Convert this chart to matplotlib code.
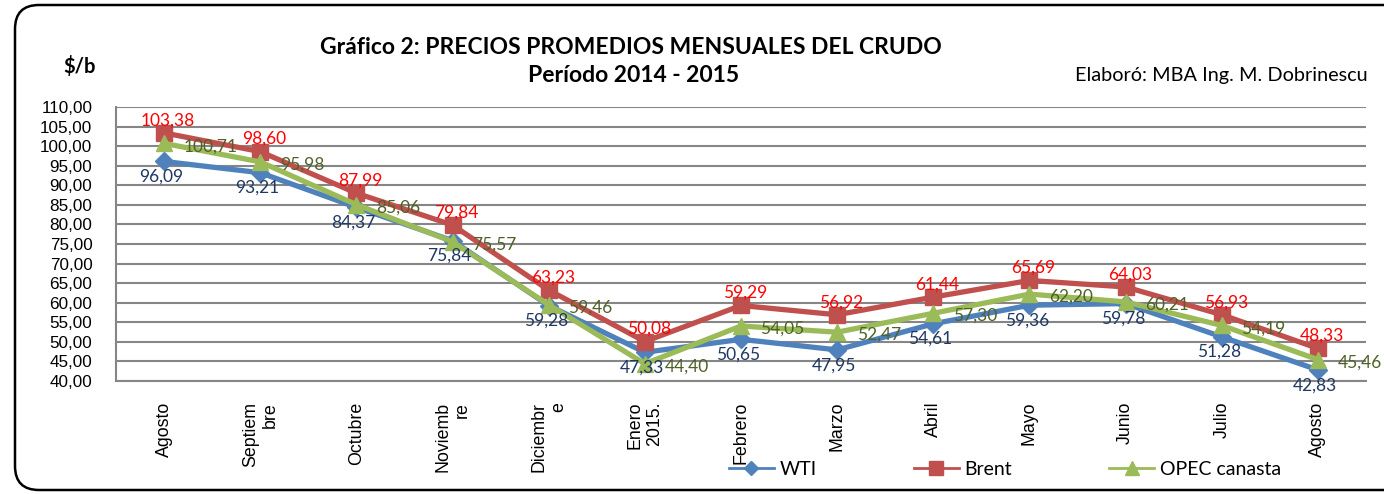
import matplotlib
matplotlib.use("Agg")
import matplotlib.pyplot as plt
from matplotlib.lines import Line2D
from matplotlib.patches import FancyBboxPatch
from matplotlib.transforms import IdentityTransform

categories = ["Agosto", "Septiem\nbre", "Octubre", "Noviemb\nre", "Diciembr\ne",
              "Enero\n2015.", "Febrero", "Marzo", "Abril", "Mayo", "Junio", "Julio", "Agosto"]
wti = [96.09, 93.21, 84.37, 75.84, 59.28, 47.33, 50.65, 47.95, 54.61, 59.36, 59.78, 51.28, 42.83]
brent = [103.38, 98.60, 87.99, 79.84, 63.23, 50.08, 59.29, 56.92, 61.44, 65.69, 64.03, 56.93, 48.33]
opec = [100.71, 95.98, 85.06, 75.57, 59.46, 44.40, 54.05, 52.47, 57.30, 62.20, 60.21, 54.19, 45.46]
yticks = [40, 45, 50, 55, 60, 65, 70, 75, 80, 85, 90, 95, 100, 105, 110]

def fmt(v):
    return f"{v:.2f}".replace(".", ",")

W, H = 1384, 494
fig = plt.figure(figsize=(W / 100, H / 100), dpi=100)
ax = fig.add_axes([116 / W, (H - 381) / H, (1366 - 116) / W, (381 - 107) / H])

c_wti, c_brent, c_opec = "#4F81BD", "#C0504D", "#9BBB59"
lab_wti, lab_brent, lab_opec = "#1F3864", "#FF0000", "#4F6228"

x = list(range(len(categories)))
ax.plot(x, wti, color=c_wti, lw=3.8, marker="D", ms=9, zorder=3)
ax.plot(x, brent, color=c_brent, lw=3.8, marker="s", ms=11, zorder=4)
ax.plot(x, opec, color=c_opec, lw=3.8, marker="^", ms=12, zorder=5)

lfont = dict(family="Lato", fontsize=12.5)
for i in x:
    ax.annotate(fmt(wti[i]), (i, wti[i]), xytext=(-2, -11), textcoords="offset points",
                ha="center", va="center", color=lab_wti, zorder=10, **lfont)
    ax.annotate(fmt(brent[i]), (i, brent[i]), xytext=(3, 9), textcoords="offset points",
                ha="center", va="center", color=lab_brent, zorder=10, **lfont)
    ax.annotate(fmt(opec[i]), (i, opec[i]), xytext=(14, -2), textcoords="offset points",
                ha="left", va="center", color=lab_opec, zorder=10, **lfont)

ax.set_xlim(-0.5, len(categories) - 0.5)
ax.set_ylim(40, 110)
ax.set_yticks(yticks)
ax.set_yticklabels([fmt(v) for v in yticks], family="Liberation Sans", fontsize=12.3)
ax.set_xticks(x)
ax.set_xticklabels(categories, rotation=90, family="Liberation Sans", fontsize=12.8,
                   va="top", ha="center", multialignment="right")
ax.tick_params(axis="y", length=0, pad=17)
ax.tick_params(axis="x", length=0, pad=15)
ax.grid(axis="y", color="#868686", lw=1.5, zorder=1)
for s in ["top", "right"]:
    ax.spines[s].set_visible(False)
for s in ["left", "bottom"]:
    ax.spines[s].set_color("#868686")
    ax.spines[s].set_linewidth(1.5)

# titles
fig.text(631 / W, 1 - 47 / H, "Gráfico 2: PRECIOS PROMEDIOS MENSUALES DEL CRUDO",
         ha="center", va="center", family="Lato", fontweight="bold", fontsize=16.5)
fig.text(634 / W, 1 - 76 / H, "Período 2014 - 2015",
         ha="center", va="center", family="Lato", fontweight="bold", fontsize=16.5)
fig.text(80 / W, 1 - 66 / H, "$/b", ha="center", va="center", family="Lato",
         fontweight="bold", fontsize=14.5)
fig.text(1368 / W, 1 - 76 / H, "Elaboró: MBA Ing. M. Dobrinescu", ha="right", va="center",
         family="Lato", fontsize=14.3)

handles = [
    Line2D([], [], color=c_wti, lw=2, marker="D", ms=7),
    Line2D([], [], color=c_brent, lw=2, marker="s", ms=10),
    Line2D([], [], color=c_opec, lw=2, marker="^", ms=10),
]
fig.legend(handles, ["WTI", "Brent", "OPEC canasta"], loc="center",
           bbox_to_anchor=(1005 / W, (H - 469) / H), ncol=3, frameon=False,
           prop=dict(family="Lato", size=14), handlelength=2.3, handletextpad=0.3,
           columnspacing=5.0)

frame = FancyBboxPatch((15, 4), 1420, 485, boxstyle="round,pad=0,rounding_size=24",
                       transform=IdentityTransform(), fill=False, edgecolor="black",
                       lw=1.8, zorder=0)
fig.patches.append(frame)

fig.savefig("out.png", dpi=100)
